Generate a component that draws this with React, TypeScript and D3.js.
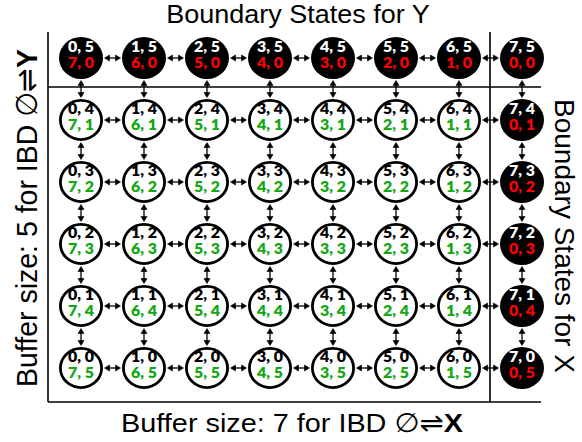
import { useEffect } from 'react';
import * as d3 from 'd3';

const xStates = [0, 1, 2, 3, 4, 5, 6, 7];
const yStates = [0, 1, 2, 3, 4, 5];
const bufferX = 7;
const bufferY = 5;

const titleTop = 'Boundary States for Y';
const titleRight = 'Boundary States for X';
const labelBottom = 'Buffer size: 7 for IBD ';
const labelLeft = 'Buffer size: 5 for IBD ';

const W = 582;
const H = 442;
const RX = 22;
const RY = 21;
const GREEN = '#14a814';
const RED = '#ff0000';
const labelFont = "Lato, 'Open Sans', sans-serif";
const titleFont = "'Liberation Sans', Arial, sans-serif";

// two small triangles, one at each end of a double-headed arrow
const arrowPath = (x1: number, y1: number, x2: number, y2: number) => {
  const len = Math.hypot(x2 - x1, y2 - y1);
  const ux = (x2 - x1) / len;
  const uy = (y2 - y1) / len;
  const hl = 5;
  const hw = 3;
  const head = (px: number, py: number, dx: number, dy: number) =>
    `M${px},${py}L${px - dx * hl - dy * hw},${py - dy * hl + dx * hw}L${px - dx * hl + dy * hw},${py - dy * hl - dx * hw}Z`;
  return head(x2, y2, ux, uy) + head(x1, y1, -ux, -uy);
};

const App = () => {
  useEffect(() => {
    document.body.style.margin = '0';
  }, []);

  const x = d3.scalePoint<number>().domain(xStates).range([81, 522]);
  const y = d3.scalePoint<number>().domain(yStates).range([368, 58]);

  const nodes = xStates.flatMap((i) => yStates.map((j) => ({ i, j })));
  const hEdges = nodes.filter((n) => n.i < bufferX);
  const vEdges = nodes.filter((n) => n.j < bufferY);

  const frameLeft = 48;
  const frameRight = 541;
  const frameBottom = 402;
  const frameTop = 32;
  const splitX = 490;
  const splitY = 87;

  return (
    <svg width={W} height={H} style={{ display: 'block' }}>
      <g stroke="#000" strokeWidth={1.6} fill="none">
        <line x1={frameLeft} x2={frameLeft} y1={frameTop} y2={frameBottom} />
        <line x1={frameLeft} x2={frameRight} y1={frameBottom} y2={frameBottom} />
        <line x1={splitX} x2={splitX} y1={frameTop} y2={frameBottom} />
        <line x1={frameLeft} x2={frameRight} y1={splitY} y2={splitY} />
      </g>

      <g stroke="#000" fill="#000" strokeWidth={1.3}>
        {hEdges.map(({ i, j }) => {
          const x1 = (x(i) ?? 0) + RX + 1.5;
          const x2 = (x(i + 1) ?? 0) - RX - 1.5;
          const yy = y(j) ?? 0;
          return (
            <g key={`h${i}-${j}`}>
              <line x1={x1 + 4} x2={x2 - 4} y1={yy} y2={yy} />
              <path d={arrowPath(x1, yy, x2, yy)} strokeWidth={0.6} />
            </g>
          );
        })}
        {vEdges.map(({ i, j }) => {
          const xx = x(i) ?? 0;
          const y1 = (y(j) ?? 0) - RY - 1.5;
          const y2 = (y(j + 1) ?? 0) + RY + 1.5;
          return (
            <g key={`v${i}-${j}`}>
              <line x1={xx} x2={xx} y1={y1 - 4} y2={y2 + 4} />
              <path d={arrowPath(xx, y1, xx, y2)} strokeWidth={0.6} />
            </g>
          );
        })}
      </g>

      {nodes.map(({ i, j }) => {
        const boundary = i === bufferX || j === bufferY;
        const cx = x(i) ?? 0;
        const cy = y(j) ?? 0;
        return (
          <g key={`n${i}-${j}`} transform={`translate(${cx},${cy})`}>
            <ellipse
              rx={boundary ? RX : RX - 1.4}
              ry={boundary ? RY : RY - 1.4}
              fill={boundary ? '#000' : '#fff'}
              stroke="#000"
              strokeWidth={boundary ? 0 : 2.8}
            />
            <text
              y={-6}
              textAnchor="middle"
              fontFamily={labelFont}
              fontWeight={800}
              fontSize={14.5}
              fill={boundary ? '#fff' : '#000'}
              transform="scale(1.1,1)"
            >
              {`${i}, ${j}`}
            </text>
            <text
              y={10}
              textAnchor="middle"
              fontFamily={labelFont}
              fontWeight={800}
              fontSize={14.5}
              fill={boundary ? RED : GREEN}
              transform="scale(1.1,1)"
            >
              {`${bufferX - i}, ${bufferY - j}`}
            </text>
          </g>
        );
      })}

      <text
        transform="translate(298,22.5) scale(1.08,1)"
        textAnchor="middle"
        fontFamily={titleFont}
        fontSize={25}
        fill="#000"
      >
        {titleTop}
      </text>

      <text
        transform="translate(292,432) scale(1.08,1)"
        textAnchor="middle"
        fontFamily={titleFont}
        fontSize={26.7}
        fill="#000"
      >
        {labelBottom}
        <tspan fontFamily="'DejaVu Sans', sans-serif">∅⇌</tspan>
        <tspan fontWeight={700}>X</tspan>
      </text>

      <text
        transform="translate(37,218) rotate(-90) scale(1,1.05)"
        textAnchor="middle"
        fontFamily={titleFont}
        fontSize={28.5}
        fill="#000"
      >
        {labelLeft}
        <tspan fontFamily="'DejaVu Sans', sans-serif">∅⇌</tspan>
        <tspan fontWeight={700}>Y</tspan>
      </text>

      <text
        transform="translate(555,236) rotate(90)"
        textAnchor="middle"
        fontFamily={titleFont}
        fontSize={28}
        fill="#000"
      >
        {titleRight}
      </text>
    </svg>
  );
};

export default App;
